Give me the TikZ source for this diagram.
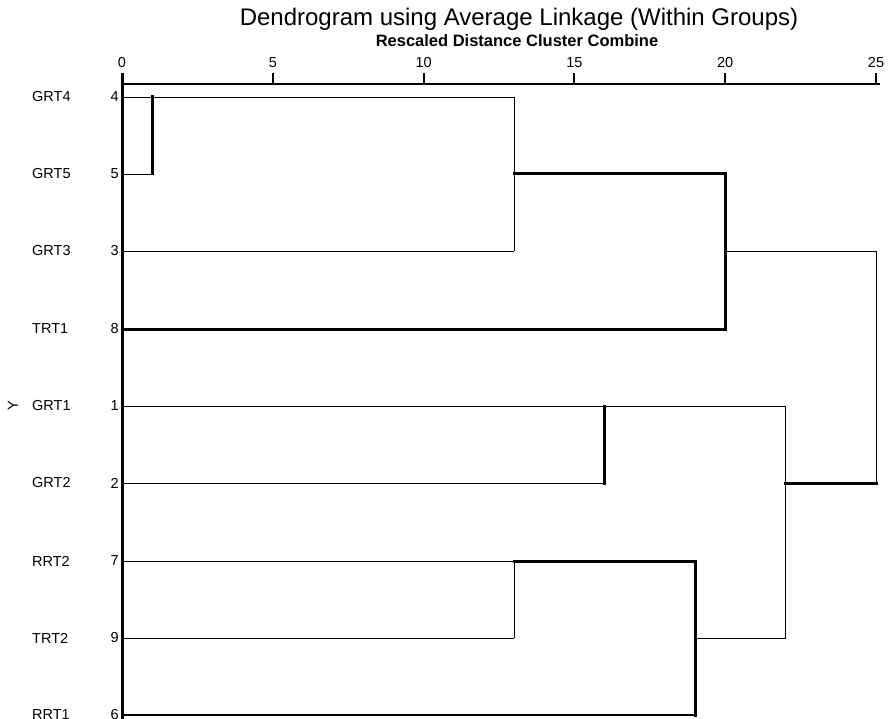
\documentclass[tikz,border=0pt]{standalone}
\usepackage{fontspec}
\setmainfont{Liberation Sans}
\begin{document}
\begin{tikzpicture}[x=1pt,y=-1pt,
  thinln/.style={line width=0.9pt,line cap=rect},
  thickln/.style={line width=3pt,line cap=rect},
  midln/.style={line width=1.5pt,line cap=rect},
  tickln/.style={line width=2pt},
  leaflab/.style={anchor=west,inner sep=0pt,font=\fontsize{14.5}{16}\selectfont},
  numlab/.style={anchor=east,inner sep=0pt,font=\fontsize{14.5}{16}\selectfont},
  ticklab/.style={anchor=base,inner sep=0pt,font=\fontsize{14.5}{16}\selectfont}]
\clip (0,0) rectangle (893,719);
\useasboundingbox (0,0) rectangle (893,719);
\fill[white] (0,0) rectangle (893,719);
% titles
\node[inner sep=0pt,anchor=base,font=\fontsize{24}{27}\selectfont] (title) at (519,26) {Dendrogram using Average Linkage (Within Groups)};
\node[inner sep=0pt,anchor=base,font=\bfseries\fontsize{16.5}{18}\selectfont] (subtitle) at (517,47) {Rescaled Distance Cluster Combine};
% axis
\foreach \d [count=\i] in {0,5,10,15,20,25}{
  \coordinate (t\i) at ({122+30.16*\d},84);
  \coordinate (tt\i) at ({122+30.16*\d},73);
  \node[ticklab] (tl\i) at ({122+30.16*\d},68) {\d};
  \draw[tickln] (t\i) -- (tt\i);
}
\coordinate (axR) at (880,84);
\draw[line width=1.3pt] (t1) -- (axR);
% rows
\foreach \n/\lab/\num/\y in {r4/GRT4/4/97, r5/GRT5/5/174, r3/GRT3/3/251, r8/TRT1/8/329, r1/GRT1/1/406, r2/GRT2/2/483, r7/RRT2/7/561, r9/TRT2/9/638, r6/RRT1/6/715}{
  \coordinate (\n) at (122,\y);
  \node[leaflab] (L\n) at (32,\y) {\lab};
  \node[numlab] (N\n) at (119,\y) {\num};
}
\node[rotate=90,inner sep=0pt,font=\fontsize{14.5}{16}\selectfont] (ylab) at (13,406) {Y};
% left base line
\coordinate (base0) at (122,73);
\coordinate (base1) at (122,719);
\draw[line width=3pt] (base0) -- (base1);
% merge points
\coordinate (a4) at (152.2,97);   \coordinate (a5) at (152.2,174);
\coordinate (b4) at (514,97);     \coordinate (b3) at (514,251); \coordinate (b5) at (514,174);
\coordinate (c5) at (725,174);    \coordinate (c8) at (725,329); \coordinate (c3) at (725,251);
\coordinate (e3) at (876,251);    \coordinate (e2) at (876,483);
\coordinate (f1) at (604.6,406);  \coordinate (f2) at (604.6,483);
\coordinate (g7) at (514,561);    \coordinate (g9) at (514,638);
\coordinate (h7) at (695,561);    \coordinate (h6) at (695,715); \coordinate (h9) at (695,638);
\coordinate (k1) at (785.5,406);  \coordinate (k9) at (785.5,638); \coordinate (k2) at (785.5,483);
% leaf horizontals
\draw[thinln] (r4) -- (b4);
\draw[thinln] (r5) -- (a5);
\draw[thinln] (r3) -- (b3);
\draw[thickln] (r8) -- (c8);
\draw[thinln] (r1) -- (k1);
\draw[thinln] (r2) -- (f2);
\draw[thinln] (r7) -- (g7);
\draw[thinln] (r9) -- (g9);
\draw[midln] (r6) -- (h6);
% merges
\draw[thickln] (a4) -- (a5);
\draw[thinln] (b4) -- (b3);
\draw[thickln] (b5) -- (c5) -- (c8);
\draw[thinln] (c3) -- (e3) -- (e2);
\draw[thickln] (f1) -- (f2);
\draw[thinln] (g7) -- (g9);
\draw[thickln] (g7) -- (h7) -- (h6);
\draw[thinln] (h9) -- (k9) -- (k1);
\draw[thickln] (k2) -- (e2);
\end{tikzpicture}
\end{document}
